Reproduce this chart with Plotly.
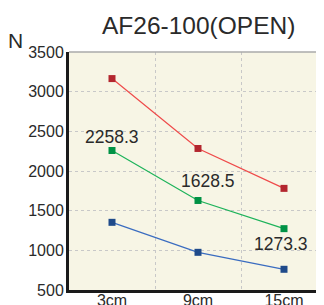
import plotly.graph_objects as go

categories = ["3cm", "9cm", "15cm"]
red_vals = [3165, 2284, 1781]
green_vals = [2258.3, 1628.5, 1273.3]
blue_vals = [1353, 975, 761]
y_ticks = [500, 1000, 1500, 2000, 2500, 3000, 3500]

FONT = "Liberation Sans, Arial, sans-serif"
fig = go.Figure()

series = [
    (red_vals, "#EF4A4A", "#B3262E"),
    (green_vals, "#1DB35A", "#009245"),
    (blue_vals, "#3A6CC0", "#1F4A8A"),
]
for vals, lc, mc in series:
    fig.add_trace(go.Scatter(
        x=categories, y=vals, mode="lines+markers",
        line=dict(color=lc, width=1.2),
        marker=dict(symbol="square", size=7, color=mc),
        showlegend=False, hoverinfo="skip",
    ))

label_shifts = [(0, 0, 14), (1, 10, 19), (2, -3, -15)]
for i, xs, ys in label_shifts:
    fig.add_annotation(
        x=categories[i], y=green_vals[i], text=f"{green_vals[i]:.1f}",
        showarrow=False, xshift=xs, yshift=ys,
        font=dict(family=FONT, size=17.5, color="#2a2a2a"),
    )

fig.add_annotation(
    xref="paper", yref="paper", x=0.5, y=1, yshift=27, xanchor="center", yanchor="middle",
    text="AF26-100(OPEN)", showarrow=False,
    font=dict(family=FONT, size=24.5, color="#2a2a2a"),
)
fig.add_annotation(
    xref="paper", yref="paper", x=0, y=1, xshift=-54, yshift=12, xanchor="center", yanchor="middle",
    text="N", showarrow=False,
    font=dict(family=FONT, size=21, color="#2a2a2a"),
)

fig.add_shape(type="line", xref="paper", yref="paper", x0=0, x1=1, y0=1, y1=1,
              line=dict(color="#AAAAAA", width=1.5))

fig.update_layout(
    width=324, height=305,
    margin=dict(l=61, r=5, t=44, b=23, autoexpand=False),
    paper_bgcolor="white",
    plot_bgcolor="#F7F5E5",
    xaxis=dict(
        type="category", range=[-0.5, 2.5], automargin=False,
        tickson="boundaries", showgrid=True,
        gridcolor="#C8C8C8", griddash="dot", gridwidth=1,
        showline=True, linecolor="#1a1a1a", linewidth=3,
        ticks="", ticklabelstandoff=-6,
        tickfont=dict(family=FONT, size=16, color="#2a2a2a"),
        zeroline=False, fixedrange=True,
    ),
    yaxis=dict(
        range=[500, 3500], tickvals=y_ticks, automargin=False,
        showgrid=True, gridcolor="#C8C8C8", griddash="dot", gridwidth=1,
        showline=True, linecolor="#1a1a1a", linewidth=3,
        ticks="", ticklabelstandoff=-1,
        tickfont=dict(family=FONT, size=16, color="#2a2a2a"),
        zeroline=False, fixedrange=True,
    ),
)

fig.write_html("out.html")
